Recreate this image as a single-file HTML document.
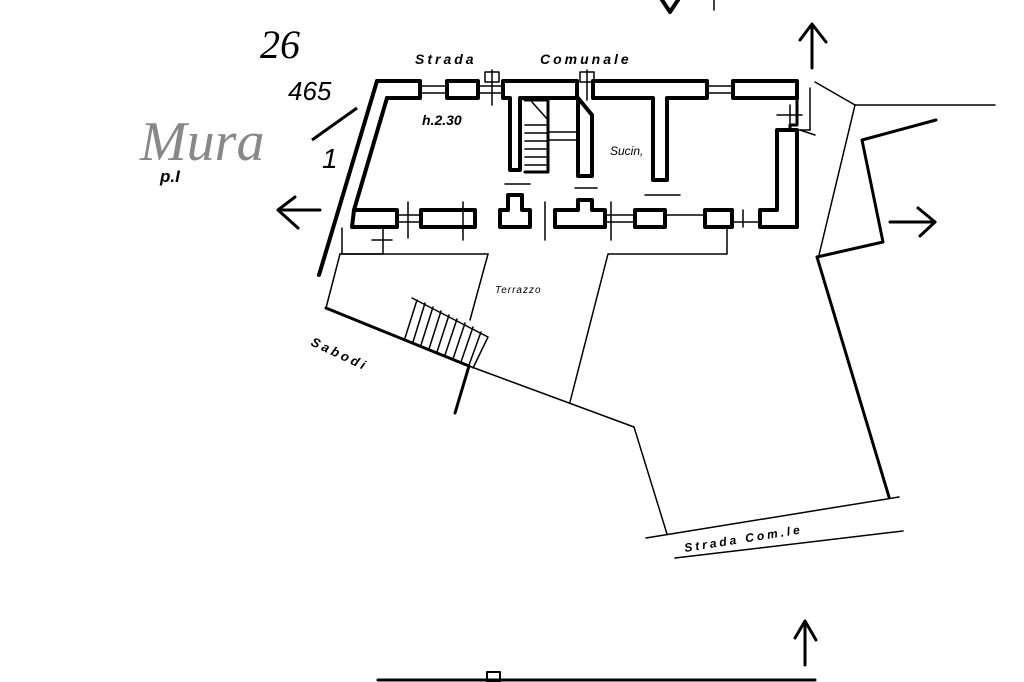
<!DOCTYPE html>
<html><head><meta charset="utf-8"><style>
html,body{margin:0;padding:0;background:#fff;width:1024px;height:682px;overflow:hidden}
svg{display:block}
text{font-family:"Liberation Sans",sans-serif;font-style:italic;fill:#000}
</style></head><body>
<svg width="1024" height="682" viewBox="0 0 1024 682" xmlns="http://www.w3.org/2000/svg">
<g fill="none" stroke="#000" stroke-linecap="round" stroke-linejoin="round">
<line x1="377" y1="81" x2="319" y2="275" stroke-width="4"/>
<line x1="387" y1="98" x2="354" y2="210" stroke-width="4"/>
<polyline points="377,81 420,81 420,98 387,98" stroke-width="4"/>
<rect x="447" y="81" width="31" height="17" stroke-width="4"/>
<polyline points="503,81 577,81 577,98 520,98 520,170 510,170 510,98 503,98 503,81" stroke-width="4"/>
<polyline points="593,81 707,81 707,98 667,98 667,180 653,180 653,98 593,98 593,81" stroke-width="4"/>
<polyline points="733,81 797,81 797,98 733,98 733,81" stroke-width="4"/>
<polyline points="797,98 797,125 790,125 790,130" stroke-width="3"/>
<polyline points="777,130 797,130 797,227 760,227 760,210 777,210 777,130" stroke-width="4"/>
<polyline points="354,210 397,210 397,227 352,227 354,210" stroke-width="4"/>
<rect x="421" y="210" width="54" height="17" stroke-width="4"/>
<polyline points="500,227 530,227 530,210 522,210 522,195 508,195 508,210 500,210 500,227" stroke-width="4"/>
<polyline points="555,227 605,227 605,210 592,210 592,200 578,200 578,210 555,210 555,227" stroke-width="4"/>
<polyline points="635,227 665,227 665,210 655,210 655,210 635,210 635,227" stroke-width="4"/>
<rect x="705" y="210" width="27" height="17" stroke-width="4"/>
<polyline points="525,100 548,100 548,172 525,172" stroke-width="3"/>
<polyline points="578,98 592,115 592,176 578,176 578,98" stroke-width="4"/>
<g stroke-width="1.5">
<line x1="525" y1="125" x2="548" y2="125"/><line x1="525" y1="133" x2="548" y2="133"/><line x1="525" y1="141" x2="548" y2="141"/><line x1="525" y1="149" x2="548" y2="149"/><line x1="525" y1="157" x2="548" y2="157"/><line x1="525" y1="165" x2="548" y2="165"/>
<line x1="548" y1="132" x2="576" y2="132"/><line x1="548" y1="140" x2="576" y2="140"/>
<line x1="532" y1="102" x2="548" y2="120"/>
<line x1="420" y1="86" x2="447" y2="86"/><line x1="420" y1="93" x2="447" y2="93"/>
<line x1="478" y1="86" x2="503" y2="86"/><line x1="478" y1="93" x2="503" y2="93"/>
<rect x="485" y="72" width="14" height="10"/><line x1="492" y1="70" x2="492" y2="105"/>
<rect x="580" y="72" width="14" height="10"/><line x1="587" y1="70" x2="587" y2="100"/>
<line x1="707" y1="86" x2="733" y2="86"/><line x1="707" y1="93" x2="733" y2="93"/>
<line x1="397" y1="215" x2="421" y2="215"/><line x1="397" y1="222" x2="421" y2="222"/>
<line x1="408" y1="202" x2="408" y2="238"/><line x1="463" y1="202" x2="463" y2="240"/>
<line x1="545" y1="202" x2="545" y2="240"/><line x1="611" y1="202" x2="611" y2="240"/>
<line x1="605" y1="215" x2="635" y2="215"/><line x1="605" y1="222" x2="635" y2="222"/>
<line x1="665" y1="215" x2="705" y2="215"/><line x1="743" y1="210" x2="743" y2="227"/>
<line x1="732" y1="222" x2="760" y2="222"/>
<line x1="505" y1="184" x2="530" y2="184"/><line x1="575" y1="188" x2="597" y2="188"/><line x1="645" y1="195" x2="680" y2="195"/>
<line x1="777" y1="115" x2="802" y2="115"/><line x1="790" y1="105" x2="790" y2="130"/>
<line x1="797" y1="130" x2="810" y2="130"/><line x1="810" y1="88" x2="810" y2="130"/><line x1="800" y1="130" x2="815" y2="135"/>
</g>
<g stroke-width="1.5">
<polyline points="342,228 342,254 383,254 383,228"/>
<line x1="372" y1="240" x2="392" y2="240"/>
<line x1="340" y1="254" x2="488" y2="254"/>
<line x1="488" y1="254" x2="470" y2="320"/>
<polyline points="727,228 727,254 608,254 570,402"/>
<polyline points="340,254 326,308"/>
<polyline points="469,366 634,427 667,534"/>
<polyline points="412,298 488,337 473,368"/>
<line x1="417" y1="300" x2="405" y2="338"/><line x1="425" y1="303" x2="413" y2="342"/><line x1="433" y1="307" x2="421" y2="345"/><line x1="441" y1="311" x2="429" y2="349"/><line x1="449" y1="315" x2="437" y2="352"/><line x1="457" y1="319" x2="445" y2="355"/><line x1="465" y1="323" x2="453" y2="359"/><line x1="473" y1="327" x2="461" y2="362"/><line x1="481" y1="332" x2="469" y2="365"/>
<polyline points="815,82 855,105 995,105"/>
<line x1="855" y1="105" x2="819" y2="255"/>
<line x1="646" y1="538" x2="899" y2="497"/>
<line x1="675" y1="558" x2="903" y2="531"/>
</g>
<g stroke-width="3">
<line x1="326" y1="308" x2="469" y2="366"/>
<line x1="469" y1="366" x2="455" y2="413"/>
<line x1="817" y1="257" x2="889" y2="497"/>
<polyline points="817,257 883,242 862,140 936,120"/>
<line x1="812" y1="68" x2="812" y2="25"/><polyline points="800,40 812,24 826,42"/>
<line x1="280" y1="210" x2="320" y2="210"/><polyline points="295,197 278,210 298,228"/>
<line x1="890" y1="222" x2="935" y2="222"/><polyline points="918,208 935,222 920,236"/>
<line x1="805" y1="665" x2="805" y2="622"/><polyline points="795,638 805,621 816,640"/>
<line x1="378" y1="680" x2="815" y2="680"/>
<rect x="487" y="672" width="13" height="10" stroke-width="2"/>
<polyline points="662,0 670,12 678,0" stroke-width="4"/>
<line x1="714" y1="0" x2="714" y2="10" stroke-width="1.5"/>
</g>
</g>
<text x="415" y="64" font-size="14" font-weight="bold" letter-spacing="3">Strada</text>
<text x="540" y="64" font-size="14" font-weight="bold" letter-spacing="3">Comunale</text>
<text x="422" y="125" font-size="14" font-weight="bold">h.2.30</text>
<text x="610" y="155" font-size="12">Sucin,</text>
<text x="495" y="293" font-size="10" letter-spacing="1">Terrazzo</text>
<text x="310" y="345" font-size="13" font-weight="bold" letter-spacing="3" transform="rotate(25 310 345)">Sabodi</text>
<text x="685" y="552" font-size="12" font-weight="bold" letter-spacing="3" transform="rotate(-9 685 552)">Strada  Com.le</text>
<text x="260" y="58" font-size="40" font-style="normal" style="font-family:'Liberation Serif',serif">26</text>
<text x="288" y="100" font-size="26" font-style="normal">465</text>
<line x1="312" y1="140" x2="357" y2="108" stroke="#000" stroke-width="3"/>
<text x="322" y="168" font-size="28" font-style="normal">1</text>
<text x="140" y="160" font-size="56" style="font-family:'Liberation Serif',serif;fill:#888">Mura</text>
<text x="160" y="182" font-size="17" font-weight="bold">p.I</text>
</svg>
</body></html>
